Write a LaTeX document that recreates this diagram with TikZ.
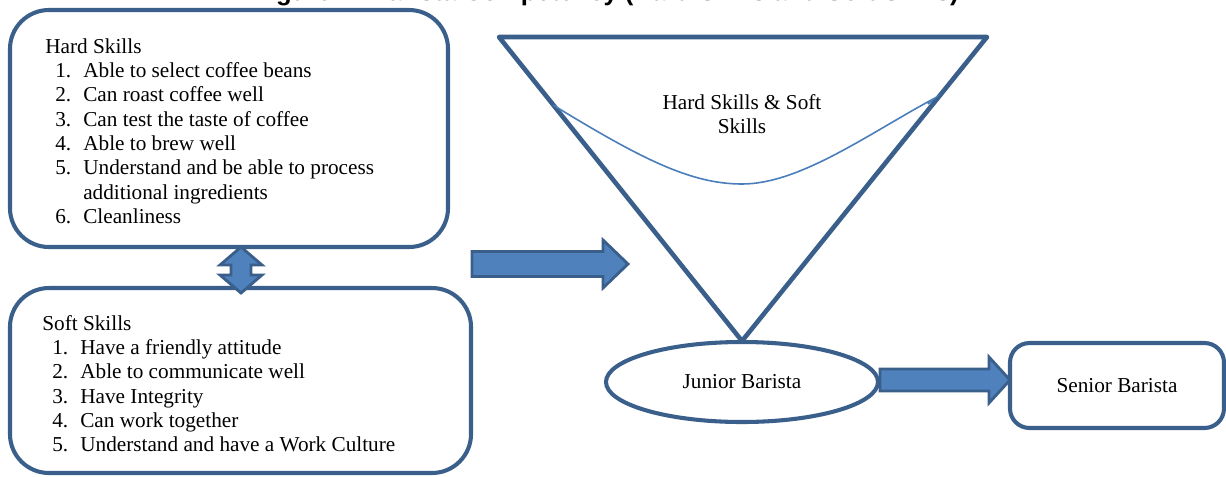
\documentclass[tikz,border=0pt]{standalone}
\usepackage{fontspec}
\setmainfont{Liberation Serif}
\newfontfamily\titlefont{Liberation Sans}
\usetikzlibrary{calc,shapes.geometric}
\definecolor{bord}{HTML}{3A5F8B}
\definecolor{afill}{HTML}{4F81BD}
\definecolor{curv}{HTML}{4A7EBB}
\newcommand\itm[2]{\hspace*{5.65pt}\makebox[15.8pt][l]{#1.}#2}
\begin{document}
\begin{tikzpicture}[x=0.565pt,y=-0.565pt,
  txt/.style={font=\fontsize{12}{13.75}\selectfont, inner sep=0pt},
  box/.style={draw=bord, line width=2.3pt, fill=white, rounded corners=22pt, inner sep=0pt},
  blk/.style={draw=bord, line width=1.6pt, fill=afill, line join=miter},
]
\useasboundingbox (0,0) rectangle (1226,476);
\begin{scope}
\clip (0,0) rectangle (1226,476);
\node[font=\titlefont\fontsize{14.5}{17}\selectfont\bfseries, anchor=base east, inner sep=0pt] (title) at (959,0.5) {Figure 1. Barista Competency (Hard Skills and Soft Skills)};
\end{scope}

% list boxes
\node[box, minimum width=247.5pt, minimum height=133.9pt] (hs) at (229,128.5) {};
\node[box, minimum width=260.5pt, minimum height=104.5pt] (ss) at (240.5,380.5) {};
\node[txt, anchor=base west] (hstxt) at (45,53) {\begin{tabular}[t]{@{}l@{}}
Hard Skills\\
\itm{1}{Able to select coffee beans}\\
\itm{2}{Can roast coffee well}\\
\itm{3}{Can test the taste of coffee}\\
\itm{4}{Able to brew well}\\
\itm{5}{Understand and be able to process}\\
\hspace*{21.45pt}additional ingredients\\
\itm{6}{Cleanliness}
\end{tabular}};
\node[txt, anchor=base west] (sstxt) at (42,330) {\begin{tabular}[t]{@{}l@{}}
Soft Skills\\
\itm{1}{Have a friendly attitude}\\
\itm{2}{Able to communicate well}\\
\itm{3}{Have Integrity}\\
\itm{4}{Can work together}\\
\itm{5}{Understand and have a Work Culture}
\end{tabular}};

% double arrow between lists
\coordinate (dt) at (241,247);
\coordinate (db) at (241,293);
\draw[blk] (dt) -- ($(dt)+(21,18)$) -- ($(dt)+(10,18)$) -- ($(db)+(10,-18)$) -- ($(db)+(21,-18)$) -- (db)
  -- ($(db)+(-21,-18)$) -- ($(db)+(-10,-18)$) -- ($(dt)+(-10,18)$) -- ($(dt)+(-21,18)$) -- cycle;

% funnel
\coordinate (tl) at (499,37);
\coordinate (tr) at (987,37);
\coordinate (tb) at (742,341);
\draw[draw=bord, line width=2.6pt, line join=round] (tl) -- (tr) -- (tb) -- cycle;
\coordinate (cl) at (553,105);
\coordinate (cm) at (742,184);
\coordinate (cr) at (935,98);
\draw[curv, line width=0.9pt] (cl) .. controls (640,158) and (690,184) .. (cm)
  .. controls (800,184) and (868,134) .. (cr) -- (928,104);
\node[txt, align=center] (hsss) at (742,114) {Hard Skills \& Soft\\Skills};

% big arrow into funnel
\coordinate (a1s) at (472,264);
\coordinate (a1e) at (628,264);
\draw[blk] ($(a1s)+(0,-12.5)$) -- ($(a1e)+(-25,-12.5)$) -- ($(a1e)+(-25,-24)$) -- (a1e)
  -- ($(a1e)+(-25,24)$) -- ($(a1e)+(-25,12.5)$) -- ($(a1s)+(0,12.5)$) -- cycle;

% junior and senior
\node[txt, ellipse, draw=bord, line width=2.3pt, fill=white, minimum width=153.7pt, minimum height=45.2pt] (jr) at (742,382) {Junior Barista};
\node[txt, box, rounded corners=11pt, minimum width=120.9pt, minimum height=48pt] (sr) at (1117,385.5) {Senior Barista};
\coordinate (a2e) at ($(jr.east -| sr.west)+(2,-2)$);
\draw[blk] ($(jr.east)+(0,-13)$) -- ($(a2e)+(-21,-11)$) -- ($(a2e)+(-21,-23)$) -- (a2e)
  -- ($(a2e)+(-21,23)$) -- ($(a2e)+(-21,11)$) -- ($(jr.east)+(0,9)$) -- cycle;
\end{tikzpicture}
\end{document}
